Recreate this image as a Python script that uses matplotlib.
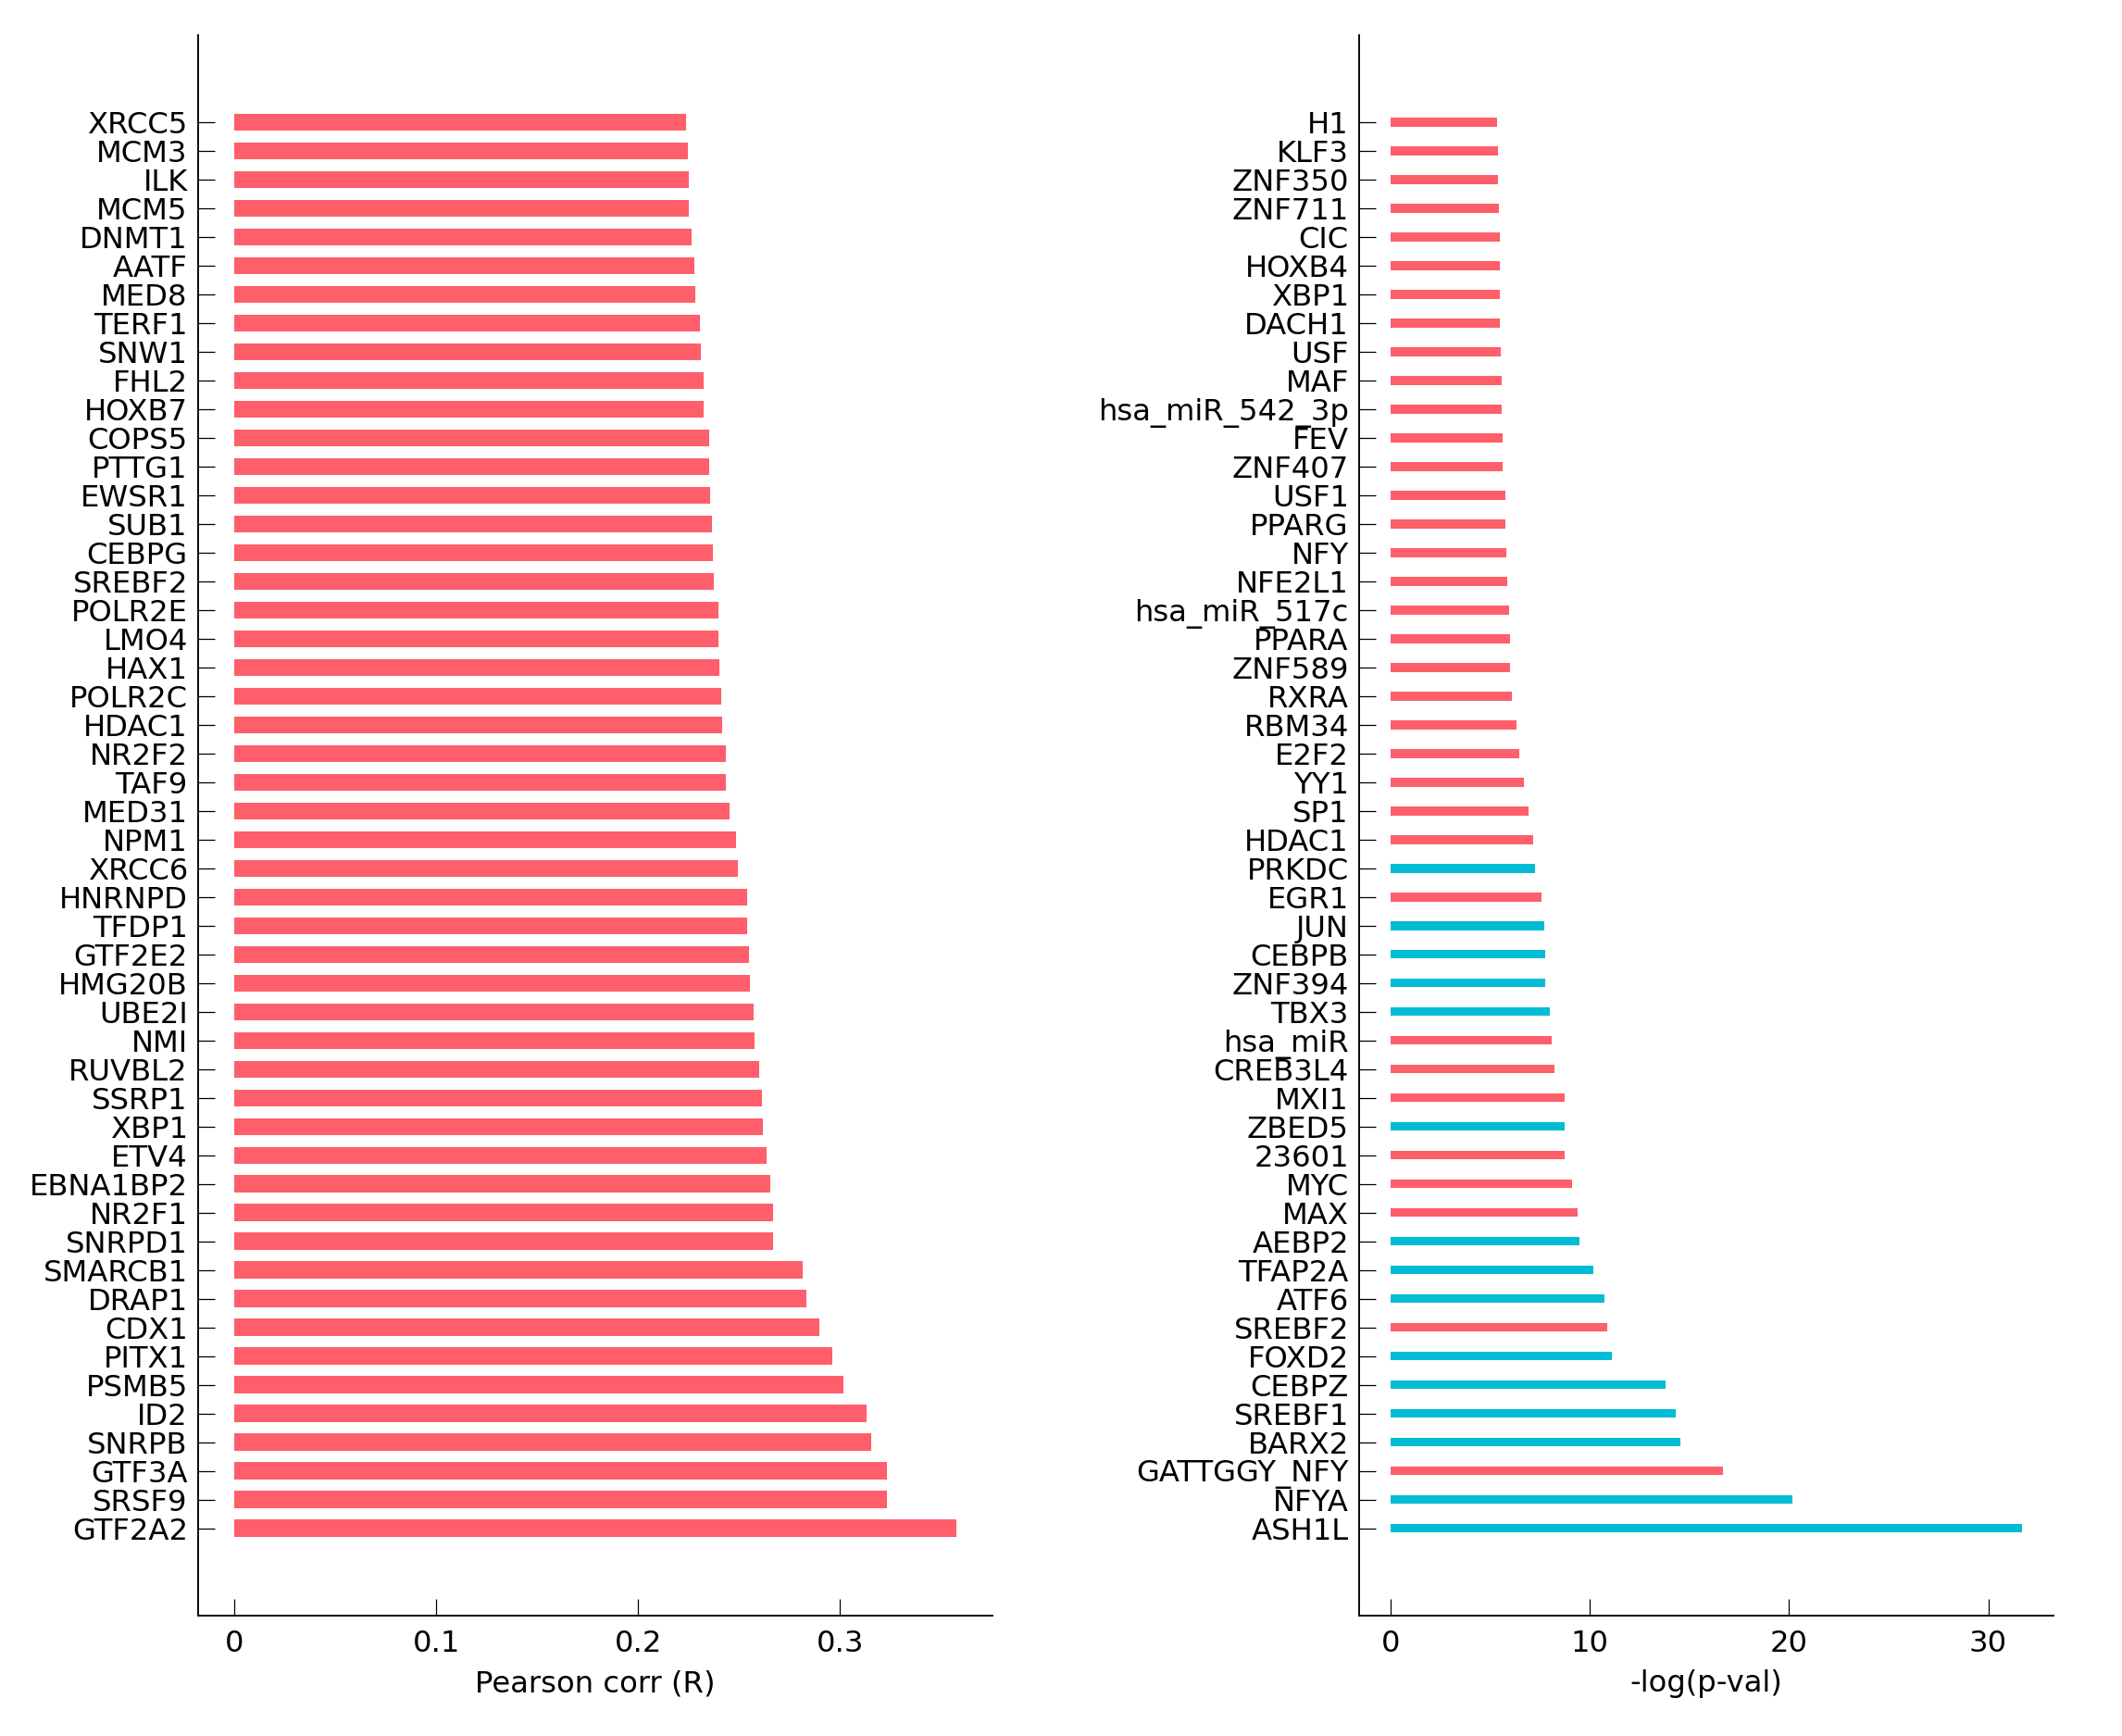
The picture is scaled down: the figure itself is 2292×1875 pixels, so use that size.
import matplotlib
matplotlib.use("Agg")
import matplotlib.pyplot as plt
import numpy as np

plt.rcParams['font.family'] = ['DejaVu Sans']

# ---- left panel data (top to bottom) ----
left_genes = ["XRCC5", "MCM3", "ILK", "MCM5", "DNMT1", "AATF", "MED8", "TERF1", "SNW1", "FHL2",
              "HOXB7", "COPS5", "PTTG1", "EWSR1", "SUB1", "CEBPG", "SREBF2", "POLR2E", "LMO4", "HAX1",
              "POLR2C", "HDAC1", "NR2F2", "TAF9", "MED31", "NPM1", "XRCC6", "HNRNPD", "TFDP1", "GTF2E2",
              "HMG20B", "UBE2I", "NMI", "RUVBL2", "SSRP1", "XBP1", "ETV4", "EBNA1BP2", "NR2F1", "SNRPD1",
              "SMARCB1", "DRAP1", "CDX1", "PITX1", "PSMB5", "ID2", "SNRPB", "GTF3A", "SRSF9", "GTF2A2"]
left_corr = [0.2239, 0.2245, 0.2250, 0.2250, 0.2263, 0.2279, 0.2284, 0.2305, 0.2313, 0.2324,
             0.2326, 0.2350, 0.2353, 0.2355, 0.2368, 0.2371, 0.2374, 0.2400, 0.2400, 0.2403,
             0.2411, 0.2418, 0.2437, 0.2437, 0.2453, 0.2487, 0.2495, 0.2539, 0.2539, 0.2550,
             0.2555, 0.2574, 0.2579, 0.2600, 0.2613, 0.2618, 0.2637, 0.2653, 0.2668, 0.2671,
             0.2816, 0.2834, 0.2897, 0.2961, 0.3018, 0.3134, 0.3153, 0.3232, 0.3232, 0.3576]

# ---- right panel data (top to bottom) ----
right_tfs = ["H1", "KLF3", "ZNF350", "ZNF711", "CIC", "HOXB4", "XBP1", "DACH1", "USF", "MAF",
             "hsa_miR_542_3p", "FEV", "ZNF407", "USF1", "PPARG", "NFY", "NFE2L1", "hsa_miR_517c", "PPARA", "ZNF589",
             "RXRA", "RBM34", "E2F2", "YY1", "SP1", "HDAC1", "PRKDC", "EGR1", "JUN", "CEBPB",
             "ZNF394", "TBX3", "hsa_miR", "CREB3L4", "MXI1", "ZBED5", "23601", "MYC", "MAX", "AEBP2",
             "TFAP2A", "ATF6", "SREBF2", "FOXD2", "CEBPZ", "SREBF1", "BARX2", "GATTGGY_NFY", "NFYA", "ASH1L"]
right_logp = [5.32, 5.39, 5.39, 5.42, 5.46, 5.49, 5.49, 5.49, 5.53, 5.56,
              5.56, 5.63, 5.63, 5.73, 5.73, 5.80, 5.83, 5.93, 5.97, 6.00,
              6.07, 6.31, 6.44, 6.68, 6.92, 7.15, 7.22, 7.56, 7.69, 7.73,
              7.73, 7.97, 8.07, 8.20, 8.71, 8.71, 8.71, 9.08, 9.36, 9.49,
              10.17, 10.71, 10.88, 11.08, 13.80, 14.31, 14.54, 16.68, 20.17, 31.69]
right_group = ["pos"] * 26 + ["neg", "pos", "neg", "neg", "neg", "neg", "pos", "pos", "pos", "neg",
               "pos", "pos", "pos", "neg", "neg", "neg", "pos", "neg", "neg", "neg",
               "neg", "pos", "neg", "neg"]

RED = "#ff5e6b"
BLUE = "#00bcd4"
group_color = {"pos": RED, "neg": BLUE}

fig = plt.figure(figsize=(2292 / 150, 1875 / 150), dpi=150)
ax1 = fig.add_axes([0.0935, 0.0692, 0.3741, 0.9108])
ax2 = fig.add_axes([0.6406, 0.0692, 0.3271, 0.9108])

FS = 15.5


def style(ax):
    for s in ["top", "right"]:
        ax.spines[s].set_visible(False)
    for s in ["left", "bottom"]:
        ax.spines[s].set_linewidth(0.9)
    ax.tick_params(axis="both", direction="in", length=8.5, width=0.6, labelsize=FS)
    ax.tick_params(axis="y", pad=5.5)
    ax.tick_params(axis="x", pad=7)


n1 = len(left_genes)
y1 = np.arange(n1)[::-1]
ax1.barh(y1, left_corr, height=0.6, color=RED)
ax1.set_yticks(y1)
ax1.set_yticklabels(left_genes)
ax1.set_ylim(-3.05, n1 - 1 + 3.05)
m1 = max(left_corr)
ax1.set_xlim(-0.05 * m1, 1.05 * m1)
ax1.set_xticks([0, 0.1, 0.2, 0.3])
ax1.set_xticklabels(["0", "0.1", "0.2", "0.3"])
ax1.set_xlabel("Pearson corr (R)", fontsize=FS, labelpad=6)
style(ax1)

n2 = len(right_tfs)
y2 = np.arange(n2)[::-1]
ax2.barh(y2, right_logp, height=0.3, color=[group_color[g] for g in right_group])
ax2.set_yticks(y2)
ax2.set_yticklabels(right_tfs)
ax2.set_ylim(-3.05, n2 - 1 + 3.05)
m2 = max(right_logp)
ax2.set_xlim(-0.05 * m2, 1.05 * m2)
ax2.set_xticks([0, 10, 20, 30])
ax2.set_xlabel("-log(p-val)", fontsize=FS, labelpad=6)
style(ax2)

fig.savefig("out.png", dpi=150)
